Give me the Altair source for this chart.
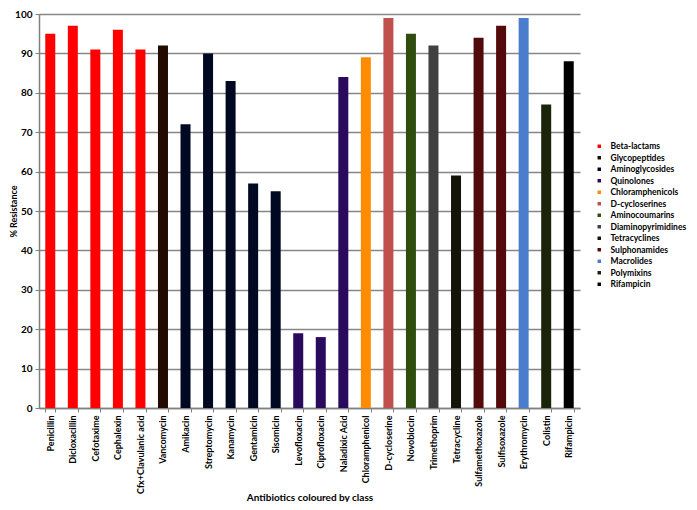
import altair as alt
import pandas as pd

antibiotics = ["Penicillin", "Dicloxacillin", "Cefotaxime", "Cephalexin", "Cfx+Clavulanic acid",
               "Vancomycin", "Amikacin", "Streptomycin", "Kanamycin", "Gentamicin", "Sisomicin",
               "Levofloxacin", "Ciprofloxacin", "Naladixic Acid", "Chloramphenicol", "D-cycloserine",
               "Novobiocin", "Trimethoprim", "Tetracycline", "Sulfamethoxazole", "Sulfisoxazole",
               "Erythromycin", "Colistin", "Rifampicin"]
resistance = [95, 97, 91, 96, 91, 92, 72, 90, 83, 57, 55, 19, 18, 84, 89, 99, 95, 92, 59, 94, 97, 99, 77, 88]
drug_class = ["Beta-lactams"] * 5 + ["Glycopeptides"] + ["Aminoglycosides"] * 5 + ["Quinolones"] * 3 + \
             ["Chloramphenicols", "D-cycloserines", "Aminocoumarins", "Diaminopyrimidines", "Tetracyclines",
              "Sulphonamides", "Sulphonamides", "Macrolides", "Polymixins", "Rifampicin"]

classes = ["Beta-lactams", "Glycopeptides", "Aminoglycosides", "Quinolones", "Chloramphenicols",
           "D-cycloserines", "Aminocoumarins", "Diaminopyrimidines", "Tetracyclines", "Sulphonamides",
           "Macrolides", "Polymixins", "Rifampicin"]
class_colors = ["#FF0000", "#220A00", "#000822", "#2A0A5C", "#FF8C00", "#C0504D", "#2F4D0F",
                "#404040", "#141408", "#520A0A", "#4A7DCC", "#1A240A", "#000000"]

df = pd.DataFrame({"Antibiotic": antibiotics, "Resistance": resistance, "Class": drug_class})

FONT = "Lato"

chart = alt.Chart(df).mark_bar(width=10).encode(
    x=alt.X("Antibiotic:N", sort=antibiotics,
            title="Antibiotics coloured by class",
            scale=alt.Scale(paddingInner=0.55, paddingOuter=0.275),
            axis=alt.Axis(labelAngle=-90, labelFontSize=9, labelFontWeight="bold", labelFont=FONT,
                          labelColor="#000000", labelPadding=3, labelBaseline="middle",
                          tickBand="extent", tickSize=4, tickColor="#808080", tickWidth=1,
                          domainColor="#808080", domainWidth=1.5,
                          titleFontSize=10, titleFont=FONT, titleFontWeight="bold",
                          titleColor="#000000", titleY=84)),
    y=alt.Y("Resistance:Q", title="% Resistance",
            scale=alt.Scale(domain=[0, 100]),
            axis=alt.Axis(values=list(range(0, 101, 10)), labelFontSize=10, labelFontWeight="bold",
                          labelFont=FONT, labelColor="#000000", labelPadding=3,
                          tickSize=4, tickColor="#808080", tickWidth=1,
                          domainColor="#808080", domainWidth=1.5,
                          gridColor="#868686", gridWidth=1.3,
                          titleFontSize=9, titleFont=FONT, titleFontWeight="bold", titleColor="#000000",
                          titleX=-21, titleY=197, titleAngle=-90)),
    color=alt.Color("Class:N", scale=alt.Scale(domain=classes, range=class_colors),
                    legend=alt.Legend(title=None, orient="none", legendX=556, legendY=128,
                                      symbolType="square", symbolSize=12, symbolStrokeWidth=0,
                                      labelFontSize=8.5, labelFont=FONT, labelFontWeight="bold",
                                      labelColor="#000000", labelOffset=7, rowPadding=2.5,
                                      labelLimit=200))
).properties(
    width=541, height=394,
    autosize=alt.AutoSizeParams(type="none"),
    padding={"left": 31, "top": 6, "right": 109, "bottom": 94}
).configure_view(stroke=None)

chart.save("out.html", embed_options={"renderer": "svg", "actions": False})
